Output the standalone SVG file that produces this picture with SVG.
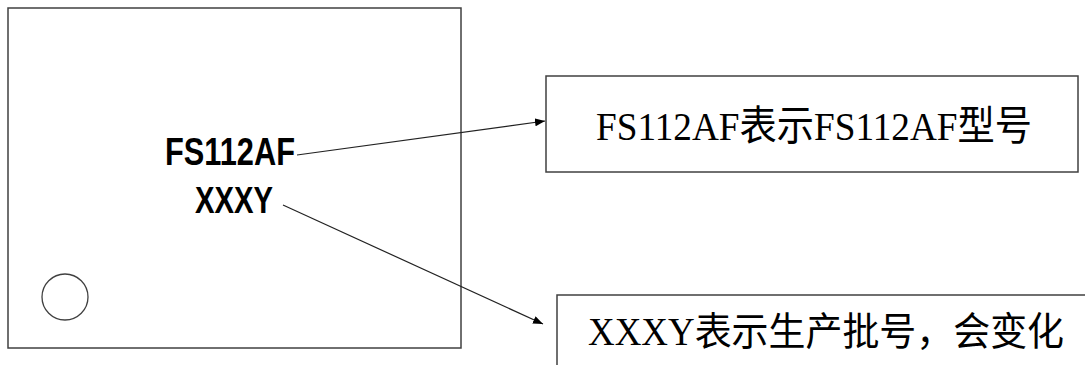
<svg xmlns="http://www.w3.org/2000/svg" width="1085" height="365" viewBox="0 0 1085 365">
<style>
.box{fill:#fff;stroke:#404040;stroke-width:1.5}
.chip{font-family:"Liberation Sans","DejaVu Sans",sans-serif;font-weight:bold;fill:#000}
.lbl{font-family:"Liberation Serif","Noto Sans CJK SC",serif;fill:#000}
.conn{stroke:#222;stroke-width:1.2;fill:none}
</style>
<defs>
<marker id="ah" viewBox="0 0 10 8" refX="10" refY="4" markerWidth="10" markerHeight="8" markerUnits="userSpaceOnUse" orient="auto">
<path d="M0,0 L10,4 L0,8 Z" fill="#000"/>
</marker>
</defs>
<rect width="1085" height="365" fill="#fff"/>
<g id="chip">
<rect class="box" x="8" y="8" width="453" height="340"/>
<circle cx="65" cy="297" r="23" fill="none" stroke="#404040" stroke-width="1.3"/>
<text class="chip" x="165" y="165" font-size="38" textLength="130" lengthAdjust="spacingAndGlyphs">FS112AF</text>
<text class="chip" x="195" y="213" font-size="37" textLength="78" lengthAdjust="spacingAndGlyphs">XXXY</text>
</g>
<g id="label1">
<rect class="box" x="546" y="76" width="532" height="96"/>
<text class="lbl" x="596" y="140" font-size="41" textLength="436" lengthAdjust="spacingAndGlyphs">FS112AF表示FS112AF型号</text>
</g>
<g id="label2">
<path class="box" d="M1085,295 H557 V365"/>
<text class="lbl" x="588" y="345" font-size="39" textLength="476" lengthAdjust="spacingAndGlyphs">XXXY表示生产批号，会变化</text>
</g>
<g id="connectors">
<line class="conn" x1="297" y1="155" x2="545" y2="121" marker-end="url(#ah)"/>
<line class="conn" x1="283" y1="205" x2="543" y2="324" marker-end="url(#ah)"/>
</g>
</svg>
